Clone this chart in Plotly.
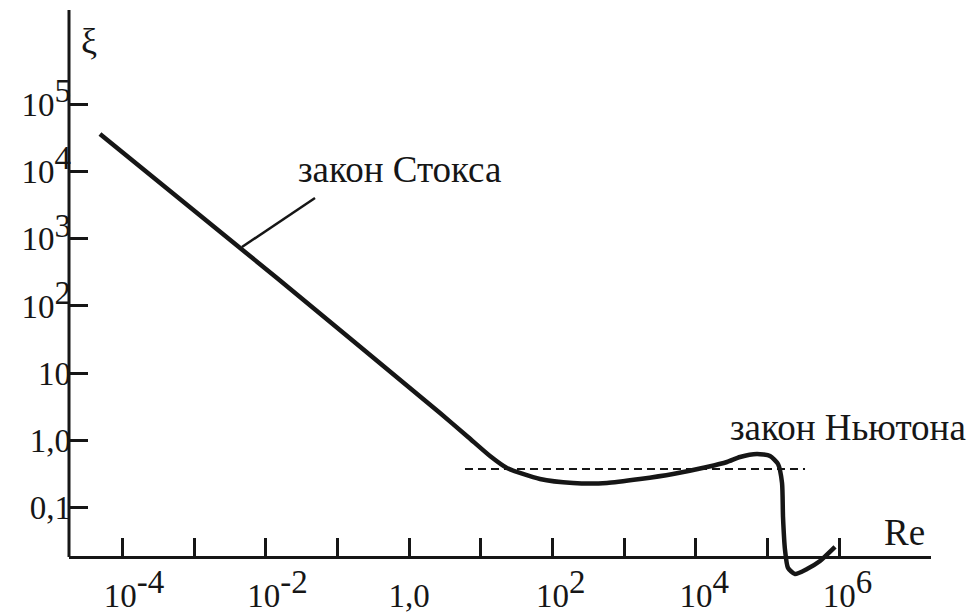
import numpy as np
import plotly.graph_objects as go

# ---- data ----
curve_re = [4.85e-5, 0.01429, 2.69, 6.61, 13.4, 23.1, 66.7, 193, 574, 1658, 4786,
            14260, 27100, 41200, 71100, 107900, 139600, 158800, 163900, 174800,
            192300, 241000, 354300, 538000, 871000]
curve_xi = [36300, 261, 2.55, 1.122, 0.585, 0.388, 0.266, 0.232, 0.232, 0.266,
            0.316, 0.401, 0.476, 0.565, 0.627, 0.585, 0.445, 0.232, 0.0723,
            0.0233, 0.0126, 0.01025, 0.01217, 0.0160, 0.0259]

newton_re = [6.0, 332300]
newton_xi = [0.375, 0.375]

stokes_leader_re = [0.00464, 0.0485]
stokes_leader_xi = [755, 4055]

x_tickvals = [1e-4, 1e-3, 1e-2, 1e-1, 1, 10, 1e2, 1e3, 1e4, 1e5, 1e6]
x_exponents = ['-4', '', '-2', '', '', '', '2', '', '4', '', '6']
x_plain = ['', '', '', '', '1,0', '', '', '', '', '', '']
y_tickvals = [0.1, 1, 10, 1e2, 1e3, 1e4, 1e5]
y_exponents = ['', '', '', '2', '3', '4', '5']
y_plain = ['0,1', '1,0', '10', '', '', '', '']

INK = '#161616'
FONT = 'Liberation Serif'
TICK_SIZE = 33
SUP = '<sup><span style="font-size:%dpx">%s</span></sup>'


def x_label(exp, plain):
    if exp:
        pad = '\u2002\u2009' if exp.startswith('-') else '\u2002'
        return pad + '10' + SUP % (TICK_SIZE, exp)
    return plain


def y_label(exp, plain):
    if exp:
        return '10' + SUP % (TICK_SIZE, exp)
    return plain


x_ticktext = [x_label(e, p) for e, p in zip(x_exponents, x_plain)]
y_ticktext = [y_label(e, p) for e, p in zip(y_exponents, y_plain)]

fig = go.Figure()
fig.add_trace(go.Scatter(x=curve_re, y=curve_xi, mode='lines',
                         line=dict(color=INK, width=4.5, shape='spline', smoothing=0.6),
                         hoverinfo='skip'))
fig.add_trace(go.Scatter(x=newton_re, y=newton_xi, mode='lines',
                         line=dict(color=INK, width=2, dash='8px,5px'),
                         hoverinfo='skip'))
fig.add_trace(go.Scatter(x=stokes_leader_re, y=stokes_leader_xi, mode='lines',
                         line=dict(color=INK, width=2.5),
                         hoverinfo='skip'))

x_pos = 0.0404
fig.update_layout(
    width=972, height=614,
    margin=dict(l=69, r=41, t=10, b=34, autoexpand=False),
    paper_bgcolor='white', plot_bgcolor='white',
    showlegend=False,
    font=dict(family=FONT, size=TICK_SIZE, color=INK),
    xaxis=dict(type='log', range=[-4.746, 7.279], anchor='free', position=x_pos,
               showline=True, linecolor=INK, linewidth=3, automargin=False,
               ticks='inside', ticklen=18, tickwidth=2.5, tickcolor=INK,
               tickvals=x_tickvals, ticktext=x_ticktext, ticklabelstandoff=8,
               tickfont=dict(family=FONT, size=TICK_SIZE, color=INK),
               showgrid=False, zeroline=False),
    yaxis=dict(type='log', range=[-2.079, 6.406], automargin=False,
               showline=False,
               ticks='inside', ticklen=19, tickwidth=2.5, tickcolor=INK,
               tickvals=y_tickvals, ticktext=y_ticktext, ticklabelstandoff=-3,
               tickfont=dict(family=FONT, size=TICK_SIZE, color=INK),
               showgrid=False, zeroline=False),
    shapes=[dict(type='line', xref='paper', yref='paper', x0=0, x1=0,
                 y0=x_pos, y1=1, line=dict(color=INK, width=3))],
    annotations=[
        dict(text='закон Стокса', xref='paper', yref='paper', x=0.2633, y=0.7193,
             xanchor='left', yanchor='middle', showarrow=False,
             font=dict(family=FONT, size=37, color=INK)),
        dict(text='закон Ньютона', xref='paper', yref='paper', x=0.7645, y=0.2684,
             xanchor='left', yanchor='middle', showarrow=False,
             font=dict(family=FONT, size=37, color=INK)),
        dict(text='Re', xref='paper', yref='paper', x=0.9432, y=0.0825,
             xanchor='left', yanchor='middle', showarrow=False,
             font=dict(family=FONT, size=37, color=INK)),
        dict(text='ξ', xref='paper', yref='paper', x=0.0232, y=0.9456,
             xanchor='center', yanchor='middle', showarrow=False,
             font=dict(family=FONT, size=36, color=INK)),
    ],
)

fig.write_html('out.html')
